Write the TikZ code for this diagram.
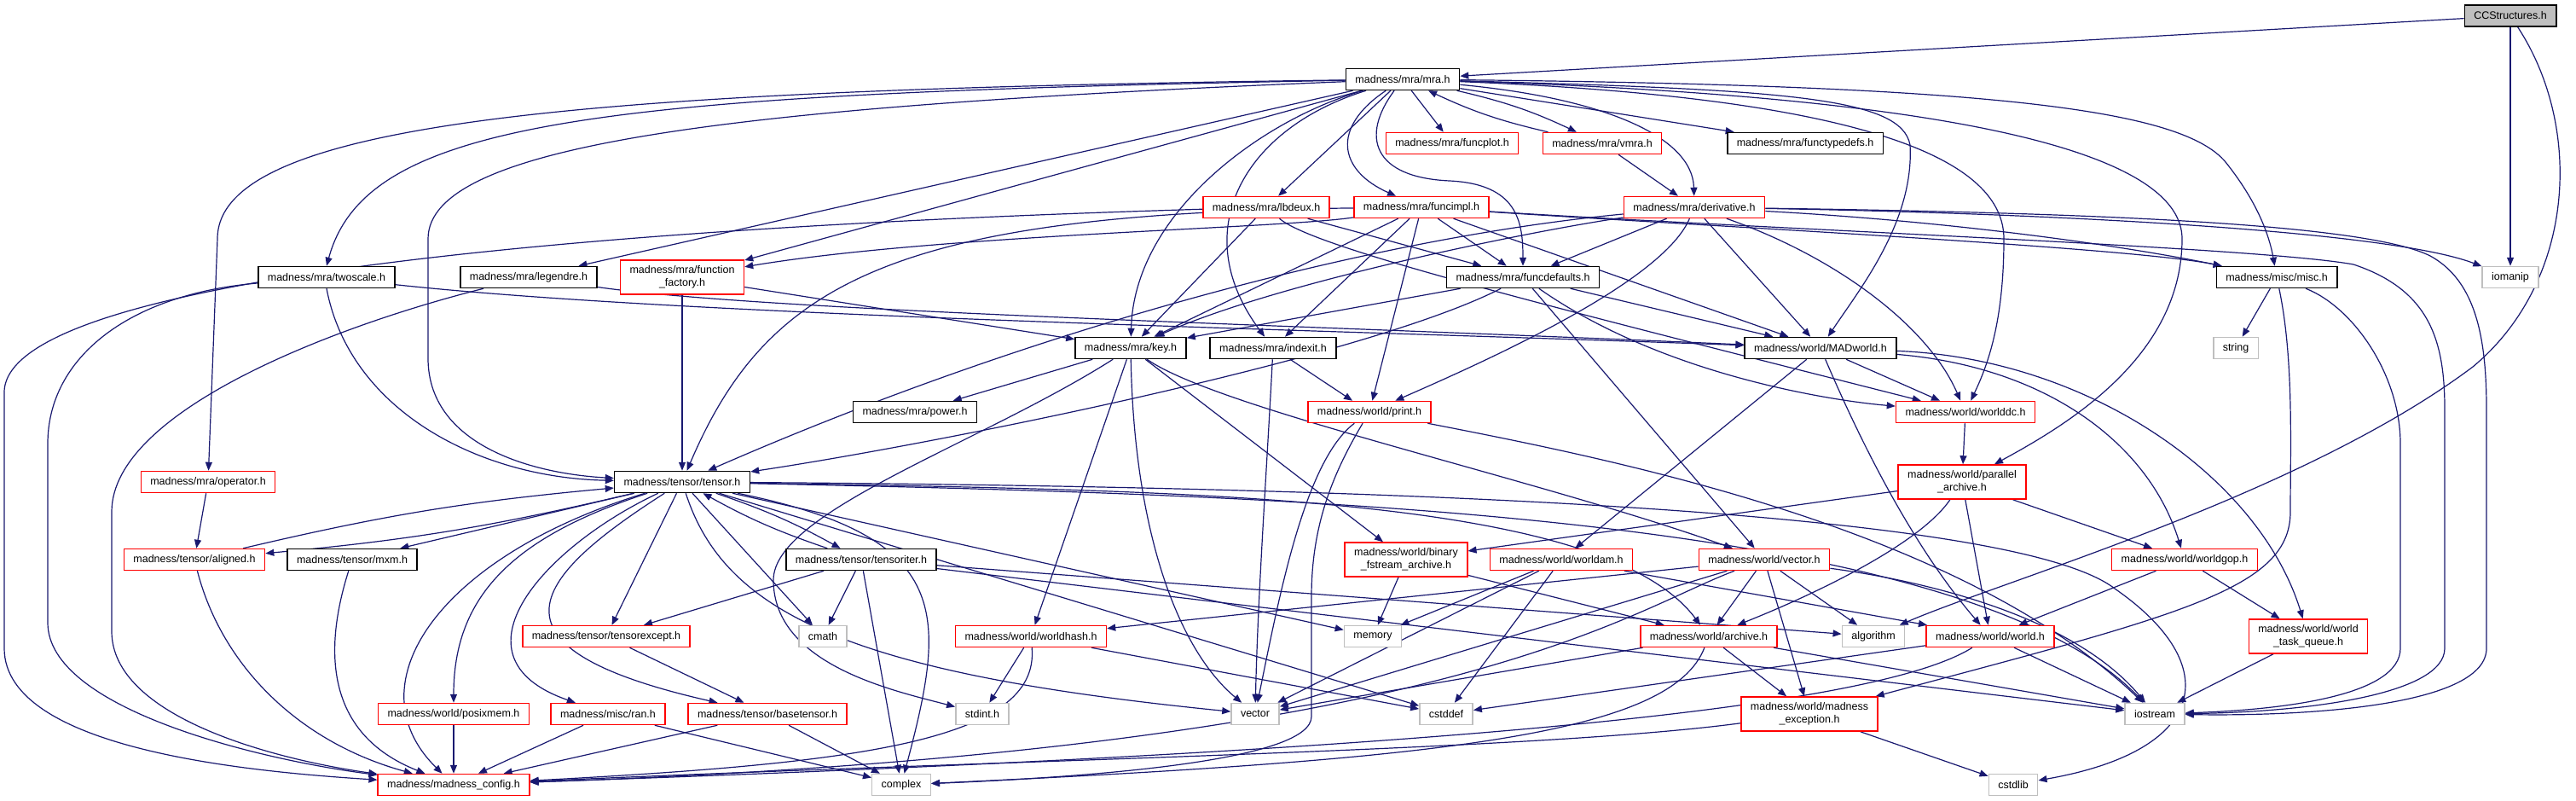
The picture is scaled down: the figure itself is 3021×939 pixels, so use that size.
\documentclass[tikz,border=0pt]{standalone}
\usepackage{fontspec}
\setmainfont{Liberation Sans}
\usetikzlibrary{arrows.meta,positioning}
\definecolor{midnight}{HTML}{191970}
\definecolor{truncred}{HTML}{FF0000}
\definecolor{sysgray}{HTML}{BFBFBF}
\pgfdeclarelayer{edges}
\pgfsetlayers{edges,main}

\begin{document}
\begin{tikzpicture}[x=1pt,y=-1pt,
    hdr/.style={draw=black, line width=1.5pt, fill=white, inner xsep=11pt, inner ysep=0pt,
                minimum height=25pt, align=center, font=\fontsize{12.5}{15}\selectfont},
    trunc/.style={hdr, draw=truncred},
    sys/.style={hdr, draw=sysgray},
    rootbox/.style={hdr, fill=sysgray},
    twoline/.style={minimum height=40pt},
    dep/.style={draw=midnight, line width=1.2pt, -{Triangle[length=10pt,width=8pt]}}]

    \useasboundingbox (0,0) rectangle (3021,939);

    % Headers, row by row
    \node[rootbox] (cc) at (2944,18.5) {CCStructures.h};
    \node[hdr] (mra) at (1645,93) {madness/mra/mra.h};

    \node[trunc] (funcplot) at (1703,168) {madness/mra/funcplot.h};
    \node[trunc] (vmra) at (1879,168) {madness/mra/vmra.h};
    \node[hdr] (functypedefs) at (2117,168) {madness/mra/functypedefs.h};

    \node[trunc] (lbdeux) at (1485,243) {madness/mra/lbdeux.h};
    \node[trunc] (funcimpl) at (1667,243) {madness/mra/funcimpl.h};
    \node[trunc] (deriv) at (1987,243) {madness/mra/derivative.h};

    \node[hdr] (twoscale) at (383,325) {madness/mra/twoscale.h};
    \node[hdr] (legendre) at (620,325) {madness/mra/legendre.h};
    \node[trunc, twoline] (funcfactory) at (800,325) {madness/mra/function\\\_factory.h};
    \node[hdr] (funcdefaults) at (1786,325) {madness/mra/funcdefaults.h};
    \node[hdr] (misc) at (2670,325) {madness/misc/misc.h};
    \node[sys] (iomanip) at (2944,325) {iomanip};

    \node[hdr] (key) at (1326,408) {madness/mra/key.h};
    \node[hdr] (indexit) at (1493,408) {madness/mra/indexit.h};
    \node[hdr] (madworld) at (2135,408) {madness/world/MADworld.h};
    \node[sys] (string) at (2622,408) {string};

    \node[hdr] (power) at (1073,483) {madness/mra/power.h};
    \node[trunc] (print) at (1606,483) {madness/world/print.h};
    \node[trunc] (worlddc) at (2305,483) {madness/world/worlddc.h};

    \node[trunc] (operator) at (244,565) {madness/mra/operator.h};
    \node[hdr] (tensor) at (800,565) {madness/tensor/tensor.h};
    \node[trunc, twoline] (parallel) at (2301,565) {madness/world/parallel\\\_archive.h};

    \node[trunc] (aligned) at (228,656) {madness/tensor/aligned.h};
    \node[hdr] (mxm) at (413,656) {madness/tensor/mxm.h};
    \node[hdr] (tensoriter) at (1010,656) {madness/tensor/tensoriter.h};
    \node[trunc, twoline] (binary) at (1649,656) {madness/world/binary\\\_fstream\_archive.h};
    \node[trunc] (worldam) at (1831,656) {madness/world/worldam.h};
    \node[trunc] (wvector) at (2069,656) {madness/world/vector.h};
    \node[trunc] (worldgop) at (2562,656) {madness/world/worldgop.h};

    \node[trunc] (tensorexcept) at (711,746) {madness/tensor/tensorexcept.h};
    \node[sys] (cmath) at (965,746) {cmath};
    \node[trunc] (worldhash) at (1209,746) {madness/world/worldhash.h};
    \node[sys] (memory) at (1610,746) {memory};
    \node[trunc] (archive) at (2004,746) {madness/world/archive.h};
    \node[sys] (algorithm) at (2197,746) {algorithm};
    \node[trunc] (world) at (2334,746) {madness/world/world.h};
    \node[trunc, twoline] (taskq) at (2707,746) {madness/world/world\\\_task\_queue.h};

    \node[trunc] (posixmem) at (532,837) {madness/world/posixmem.h};
    \node[trunc] (ran) at (713,837) {madness/misc/ran.h};
    \node[trunc] (basetensor) at (900,837) {madness/tensor/basetensor.h};
    \node[sys] (stdint) at (1152,837) {stdint.h};
    \node[sys] (stdvector) at (1472,837) {vector};
    \node[sys] (cstddef) at (1696,837) {cstddef};
    \node[trunc, twoline] (mexcept) at (2122,837) {madness/world/madness\\\_exception.h};
    \node[sys] (iostream) at (2527,837) {iostream};

    \node[trunc] (config) at (532,920) {madness/madness\_config.h};
    \node[sys] (complex) at (1057,920) {complex};
    \node[sys] (cstdlib) at (2361,920) {cstdlib};

    \begin{pgfonlayer}{edges}
    \fill[white] (0,0) rectangle (3021,939);

    % CCStructures.h
    \draw[dep] (cc) -- (mra);
    \draw[dep] (cc) -- (iomanip);
    \draw[dep] (cc) .. controls (3030,150) and (3020,330) .. (2900,430) .. controls (2700,580) and (2350,680) .. (algorithm);

    % mra.h
    \draw[dep] (mra) .. controls (700,110) and (430,140) .. (twoscale.north);
    \draw[dep] (mra) .. controls (700,105) and (255,140) .. (255,280) -- (operator);
    \draw[dep] (mra) .. controls (850,125) and (502,170) .. (502,280) -- (502,420) .. controls (502,520) and (620,555) .. (tensor);
    \draw[dep] (mra) -- (legendre);
    \draw[dep] (mra) -- (funcfactory);
    \draw[dep] (mra) -- (lbdeux);
    \draw[dep] (mra) .. controls (1560,150) and (1570,200) .. (funcimpl);
    \draw[dep] (mra) -- (funcplot);
    \draw[dep] (mra) to[bend left=6] (vmra);
    \draw[dep] (mra) -- (functypedefs);
    \draw[dep] (mra) .. controls (1880,115) and (1985,160) .. (deriv);
    \draw[dep] (mra) .. controls (1595,160) and (1610,208) .. (1700,212) .. controls (1780,216) and (1786,260) .. (funcdefaults);
    \draw[dep] (mra) .. controls (1480,140) and (1330,250) .. (key);
    \draw[dep] (mra) .. controls (1460,150) and (1390,270) .. (indexit);
    \draw[dep] (mra) .. controls (2100,105) and (2230,115) .. (2240,170) .. controls (2245,260) and (2180,340) .. (madworld);
    \draw[dep] (mra) .. controls (2200,115) and (2350,190) .. (2350,280) .. controls (2350,380) and (2330,430) .. (worlddc);
    \draw[dep] (mra) .. controls (2350,115) and (2559,190) .. (2559,280) .. controls (2559,420) and (2420,500) .. (parallel);
    \draw[dep] (mra) .. controls (2350,100) and (2560,130) .. (2610,190) .. controls (2650,240) and (2662,280) .. (misc);

    % vmra.h
    \draw[dep] (vmra) to[bend left=6] (mra);
    \draw[dep] (vmra) -- (deriv);

    % lbdeux.h
    \draw[dep] (lbdeux) .. controls (650,268) and (5,330) .. (5,460) -- (5,760) .. controls (5,880) and (300,905) .. (config);
    \draw[dep] (lbdeux) -- (key);
    \draw[dep] (lbdeux) -- (funcdefaults);
    \draw[dep] (lbdeux) .. controls (1540,290) and (1800,355) .. (worlddc);

    % funcimpl.h
    \draw[dep] (funcimpl) .. controls (1500,268) and (1100,275) .. (funcfactory);
    \draw[dep] (funcimpl) .. controls (1050,250) and (900,330) .. (tensor);
    \draw[dep] (funcimpl) -- (key);
    \draw[dep] (funcimpl) -- (indexit);
    \draw[dep] (funcimpl) -- (print);
    \draw[dep] (funcimpl) -- (funcdefaults);
    \draw[dep] (funcimpl) -- (madworld);
    \draw[dep] (funcimpl) .. controls (2000,265) and (2500,290) .. (misc);
    \draw[dep] (funcimpl) .. controls (2100,270) and (2650,290) .. (2760,310) .. controls (2850,340) and (2867,400) .. (2867,480) -- (2867,760) .. controls (2867,815) and (2700,835) .. (iostream);

    % derivative.h
    \draw[dep] (deriv) .. controls (1800,270) and (1500,330) .. (key);
    \draw[dep] (deriv) .. controls (1600,280) and (1200,390) .. (tensor);
    \draw[dep] (deriv) -- (funcdefaults);
    \draw[dep] (deriv) .. controls (1950,330) and (1750,420) .. (print);
    \draw[dep] (deriv) -- (madworld);
    \draw[dep] (deriv) .. controls (2150,300) and (2260,380) .. (worlddc);
    \draw[dep] (deriv) .. controls (2300,260) and (2500,290) .. (misc);
    \draw[dep] (deriv) .. controls (2400,250) and (2800,270) .. (iomanip);
    \draw[dep] (deriv) .. controls (2500,250) and (2780,265) .. (2850,300) .. controls (2905,330) and (2916,400) .. (2916,480) -- (2916,760) .. controls (2916,825) and (2720,840) .. (iostream);

    % function_factory.h, twoscale.h, legendre.h
    \draw[dep] (funcfactory) -- (key);
    \draw[dep] (funcfactory) -- (tensor);
    \draw[dep] (twoscale) .. controls (150,345) and (56,420) .. (56,520) -- (56,730) .. controls (56,830) and (300,890) .. (config);
    \draw[dep] (twoscale.south) .. controls (410,480) and (560,560) .. (tensor);
    \draw[dep] (twoscale) .. controls (800,370) and (1500,385) .. (madworld);
    \draw[dep] (legendre) .. controls (400,380) and (131,480) .. (131,600) -- (131,740) .. controls (131,840) and (320,890) .. (config);
    \draw[dep] (legendre) .. controls (900,365) and (1500,380) .. (madworld);

    % funcdefaults.h
    \draw[dep] (funcdefaults) -- (key);
    \draw[dep] (funcdefaults) .. controls (1600,420) and (1100,520) .. (tensor);
    \draw[dep] (funcdefaults) -- (madworld);
    \draw[dep] (funcdefaults) .. controls (1950,440) and (2150,470) .. (worlddc);
    \draw[dep] (funcdefaults) -- (wvector);

    % misc.h
    \draw[dep] (misc) -- (string);
    \draw[dep] (misc) .. controls (2760,360) and (2815,440) .. (2815,520) -- (2815,760) .. controls (2815,815) and (2680,832) .. (iostream);
    \draw[dep] (misc) .. controls (2690,420) and (2686,520) .. (2686,600) .. controls (2686,690) and (2560,720) .. (mexcept);

    % key.h, indexit.h, print.h
    \draw[dep] (key) -- (power);
    \draw[dep] (key) .. controls (1150,520) and (907,600) .. (907,680) .. controls (907,780) and (1050,810) .. (stdint);
    \draw[dep] (key) .. controls (1330,620) and (1380,760) .. (stdvector);
    \draw[dep] (key) -- (worldhash);
    \draw[dep] (key) -- (binary);
    \draw[dep] (key) .. controls (1430,480) and (1800,560) .. (wvector);
    \draw[dep] (indexit) -- (print);
    \draw[dep] (indexit) .. controls (1485,560) and (1475,700) .. (stdvector);
    \draw[dep] (print) .. controls (1530,540) and (1500,700) .. (stdvector);
    \draw[dep] (print) .. controls (1560,560) and (1538,620) .. (1538,700) -- (1538,840) .. controls (1538,890) and (1300,910) .. (complex);
    \draw[dep] (print) .. controls (1900,540) and (2300,620) .. (iostream);

    % MADworld.h, worlddc.h, parallel_archive.h
    \draw[dep] (madworld) -- (worlddc);
    \draw[dep] (madworld) -- (worldam);
    \draw[dep] (madworld) .. controls (2200,560) and (2260,660) .. (world);
    \draw[dep] (madworld) .. controls (2400,430) and (2520,520) .. (worldgop);
    \draw[dep] (madworld) .. controls (2450,420) and (2650,560) .. (taskq);
    \draw[dep] (worlddc) -- (parallel);
    \draw[dep] (parallel) -- (binary);
    \draw[dep] (parallel) .. controls (2250,640) and (2120,700) .. (archive);
    \draw[dep] (parallel) -- (world);
    \draw[dep] (parallel) -- (worldgop);

    % tensor.h
    \draw[dep] (operator) -- (aligned);
    \draw[dep] (tensor) to[bend left=4] (aligned);
    \draw[dep] (aligned) to[bend left=4] (tensor);
    \draw[dep] (tensor) -- (mxm);
    \draw[dep] (tensor) to[bend left=5] (tensoriter);
    \draw[dep] (tensoriter) to[bend left=5] (tensor);
    \draw[dep] (tensor) -- (tensorexcept);
    \draw[dep] (tensor) -- (cmath);
    \draw[dep] (tensor) .. controls (600,630) and (532,700) .. (posixmem);
    \draw[dep] (tensor) .. controls (640,640) and (520,770) .. (ran);
    \draw[dep] (tensor) .. controls (520,650) and (410,800) .. (config);
    \draw[dep] (tensor) .. controls (620,680) and (560,760) .. (basetensor);
    \draw[dep] (tensor) .. controls (1120,630) and (1110,720) .. (complex);
    \draw[dep] (tensor) .. controls (850,720) and (1000,790) .. (stdvector);
    \draw[dep] (tensor) -- (memory);
    \draw[dep] (tensor) -- (cstddef);
    \draw[dep] (tensor) .. controls (1400,575) and (1880,580) .. (archive);
    \draw[dep] (tensor) .. controls (1500,580) and (2300,600) .. (iostream);
    \draw[dep] (tensor) .. controls (1500,570) and (2350,590) .. (2480,690) .. controls (2610,780) and (2590,880) .. (cstdlib);

    % tensoriter.h and the small tensor headers
    \draw[dep] (tensoriter) -- (tensorexcept);
    \draw[dep] (tensoriter) -- (cmath);
    \draw[dep] (tensoriter) -- (complex);
    \draw[dep] (tensoriter) -- (algorithm);
    \draw[dep] (tensoriter) -- (iostream);
    \draw[dep] (tensorexcept) -- (basetensor);
    \draw[dep] (mxm) .. controls (380,760) and (380,860) .. (config);
    \draw[dep] (aligned) .. controls (260,780) and (350,870) .. (config);
    \draw[dep] (posixmem) -- (config);
    \draw[dep] (ran) -- (config);
    \draw[dep] (ran) -- (complex);
    \draw[dep] (basetensor) -- (config);
    \draw[dep] (basetensor) -- (complex);

    % world headers
    \draw[dep] (worldhash) -- (stdint);
    \draw[dep] (worldhash) .. controls (1220,870) and (1000,895) .. (config);
    \draw[dep] (worldhash) -- (cstddef);
    \draw[dep] (binary) -- (memory);
    \draw[dep] (binary) -- (archive);
    \draw[dep] (worldam) -- (memory);
    \draw[dep] (worldam) -- (stdvector);
    \draw[dep] (worldam) -- (cstddef);
    \draw[dep] (worldam) -- (world);
    \draw[dep] (wvector) -- (worldhash);
    \draw[dep] (wvector) -- (archive);
    \draw[dep] (wvector) -- (algorithm);
    \draw[dep] (wvector) -- (mexcept);
    \draw[dep] (wvector) -- (stdvector);
    \draw[dep] (wvector) .. controls (1900,720) and (1700,880) .. (config);
    \draw[dep] (wvector) .. controls (2250,680) and (2430,720) .. (iostream);
    \draw[dep] (archive) -- (stdvector);
    \draw[dep] (archive) -- (mexcept);
    \draw[dep] (archive) -- (iostream);
    \draw[dep] (archive) .. controls (1960,860) and (1700,890) .. (complex);
    \draw[dep] (worldgop) -- (world);
    \draw[dep] (worldgop) -- (taskq);
    \draw[dep] (world) -- (iostream);
    \draw[dep] (world) -- (cstddef);
    \draw[dep] (world) .. controls (2200,830) and (1700,880) .. (config);
    \draw[dep] (taskq) -- (iostream);
    \draw[dep] (mexcept) -- (cstdlib);
    \draw[dep] (mexcept) .. controls (1800,880) and (1200,890) .. (config);
    \end{pgfonlayer}

\end{tikzpicture}
\end{document}
